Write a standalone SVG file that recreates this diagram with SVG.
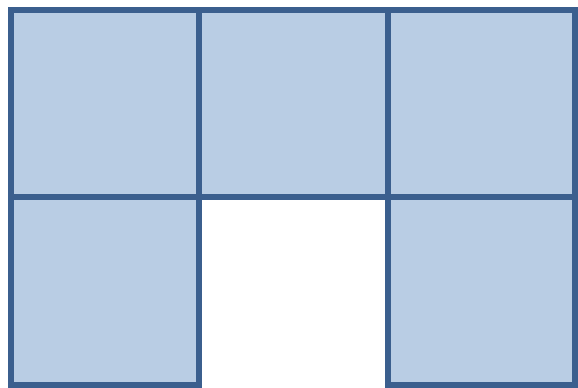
<svg xmlns="http://www.w3.org/2000/svg" width="578" height="388" viewBox="0 0 578 388">
<style>
.cell{fill:#b9cde4;stroke:#3b5f8e;stroke-width:6}
</style>
<rect width="578" height="388" fill="#ffffff"/>
<g id="cell-1-1"><rect class="cell" x="11" y="10" width="188" height="187"/></g>
<g id="cell-1-2"><rect class="cell" x="199" y="10" width="189" height="187"/></g>
<g id="cell-1-3"><rect class="cell" x="388" y="10" width="187" height="187"/></g>
<g id="cell-2-1"><rect class="cell" x="11" y="197" width="188" height="188"/></g>
<g id="cell-2-3"><rect class="cell" x="388" y="197" width="187" height="188"/></g>
</svg>
